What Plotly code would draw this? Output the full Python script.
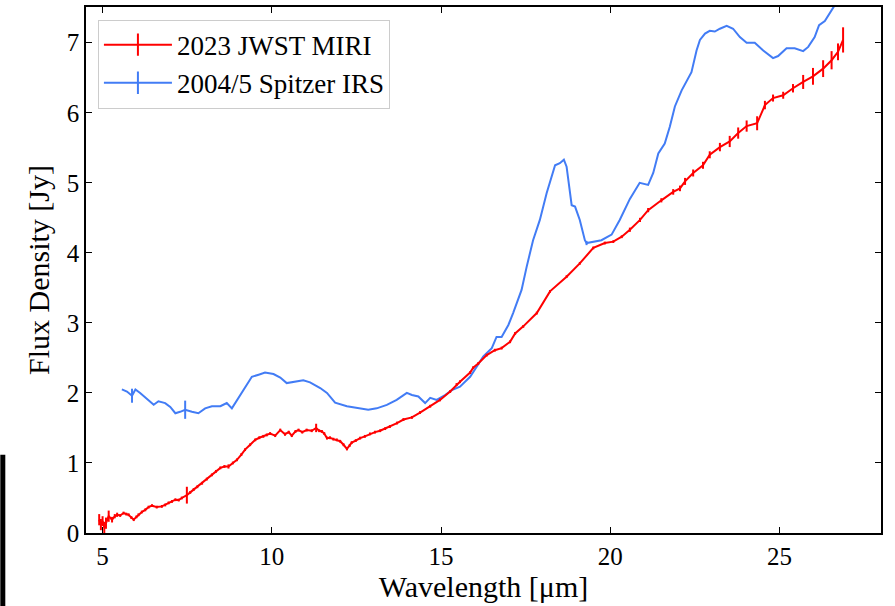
import plotly.graph_objects as go

# ---- data ----
miri_wl = [4.90, 4.95, 5.00, 5.05, 5.10, 5.18, 5.28, 5.36, 5.43, 5.52, 5.62, 5.70, 5.77, 5.85, 5.92,
           6.00, 6.06, 6.16, 6.26, 6.36, 6.46, 6.60, 6.75, 6.85, 6.95, 7.05, 7.15, 7.25, 7.34, 7.49,
           7.59, 7.69, 7.80, 7.94, 8.08, 8.23, 8.35, 8.48, 8.60, 8.72, 8.85, 8.97, 9.10, 9.21, 9.36,
           9.51, 9.63, 9.75, 9.85, 9.95, 10.10, 10.25, 10.39, 10.50, 10.59, 10.70, 10.79, 10.90, 11.03,
           11.18, 11.31, 11.40, 11.48, 11.55, 11.63, 11.72, 11.82, 11.92, 12.02, 12.12, 12.22, 12.30,
           12.36, 12.48, 12.61, 12.75, 12.90, 13.05, 13.20, 13.35, 13.49, 13.70, 13.89, 14.14, 14.38,
           14.68, 14.97, 15.27, 15.46, 15.56, 15.86, 15.95, 16.10, 16.35, 16.59, 16.79, 17.04, 17.19,
           17.43, 17.83, 18.22, 18.71, 19.10, 19.50, 19.84, 20.09, 20.34, 20.58, 20.88, 21.12, 21.51,
           21.86, 22.06, 22.21, 22.45, 22.74, 22.94, 23.24, 23.53, 23.78, 24.03, 24.34, 24.57, 24.81,
           25.11, 25.40, 25.70, 25.99, 26.29, 26.54, 26.73, 26.88]
miri_flux = [0.19, 0.12, 0.17, 0.08, 0.14, 0.24, 0.19, 0.24, 0.26, 0.25, 0.285, 0.27, 0.26, 0.22, 0.19,
             0.23, 0.26, 0.30, 0.33, 0.37, 0.39, 0.37, 0.38, 0.40, 0.43, 0.45, 0.475, 0.47, 0.50, 0.54,
             0.58, 0.62, 0.66, 0.71, 0.77, 0.83, 0.88, 0.93, 0.95, 0.95, 1.00, 1.045, 1.12, 1.19, 1.26,
             1.33, 1.36, 1.38, 1.40, 1.42, 1.39, 1.47, 1.41, 1.44, 1.39, 1.45, 1.47, 1.44, 1.47,
             1.46, 1.50, 1.46, 1.45, 1.42, 1.355, 1.36, 1.34, 1.33, 1.31, 1.26, 1.20, 1.25,
             1.29, 1.32, 1.355, 1.38, 1.415, 1.44, 1.46, 1.49, 1.52, 1.57, 1.62, 1.65, 1.72,
             1.81, 1.90, 2.02, 2.12, 2.16, 2.29, 2.36, 2.42, 2.54, 2.61, 2.64, 2.73, 2.85,
             2.95, 3.14, 3.45, 3.66, 3.85, 4.07, 4.14, 4.16, 4.23, 4.33, 4.47, 4.61, 4.75,
             4.87, 4.92, 5.02, 5.14, 5.25, 5.40, 5.51, 5.59, 5.71, 5.81, 5.85, 6.11, 6.21,
             6.25, 6.35, 6.44, 6.52, 6.63, 6.75, 6.87, 7.04]
miri_err = [0.08, 0.08, 0.07, 0.08, 0.08, 0.08, 0.04, 0.03, 0.03, 0.02, 0.02, 0.02, 0.02, 0.02, 0.02,
            0.02, 0.02, 0.02, 0.02, 0.02, 0.02, 0.02, 0.02, 0.02, 0.02, 0.02, 0.02, 0.02, 0.02, 0.12,
            0.02, 0.02, 0.02, 0.02, 0.02, 0.02, 0.02, 0.02, 0.02, 0.03, 0.02, 0.02, 0.02, 0.02, 0.02,
            0.02, 0.02, 0.02, 0.02, 0.02, 0.02, 0.02, 0.02, 0.02, 0.02, 0.02, 0.02, 0.02, 0.02,
            0.02, 0.06, 0.02, 0.02, 0.02, 0.02, 0.02, 0.02, 0.02, 0.02, 0.02, 0.02, 0.02,
            0.02, 0.02, 0.02, 0.02, 0.02, 0.02, 0.02, 0.02, 0.02, 0.02, 0.02, 0.02, 0.02,
            0.02, 0.02, 0.02, 0.02, 0.02, 0.02, 0.02, 0.02, 0.02, 0.02, 0.02, 0.02, 0.02,
            0.02, 0.02, 0.02, 0.02, 0.02, 0.02, 0.02, 0.02, 0.02, 0.03, 0.03, 0.03, 0.03,
            0.04, 0.04, 0.05, 0.05, 0.05, 0.05, 0.06, 0.08, 0.08, 0.08, 0.10, 0.06, 0.05,
            0.05, 0.06, 0.10, 0.12, 0.12, 0.13, 0.12, 0.18]

irs_wl = [5.57, 5.72, 5.87, 5.97, 6.11, 6.31, 6.51, 6.65, 6.85, 7.00, 7.15, 7.29, 7.44, 7.64, 7.83,
          8.03, 8.23, 8.48, 8.67, 8.82, 9.02, 9.21, 9.41, 9.61, 9.80, 10.05, 10.25, 10.44, 10.69,
          10.93, 11.13, 11.43, 11.63, 11.87, 12.22, 12.61, 12.85, 13.10, 13.40, 13.69, 13.99, 14.14,
          14.33, 14.53, 14.68, 14.87, 15.12, 15.32, 15.56, 15.86, 16.05, 16.25, 16.50, 16.64, 16.79,
          16.99, 17.13, 17.38, 17.53, 17.72, 17.92, 18.12, 18.37, 18.51, 18.63, 18.71, 18.86, 18.96,
          19.10, 19.25, 19.30, 19.50, 19.74, 20.04, 20.28, 20.58, 20.87, 21.12, 21.27, 21.42, 21.61,
          21.76, 21.91, 22.11, 22.40, 22.55, 22.65, 22.80, 22.94, 23.09, 23.24, 23.44, 23.63, 23.83,
          24.03, 24.27, 24.52, 24.81, 24.96, 25.21, 25.45, 25.70, 25.85, 26.04, 26.17, 26.34, 26.60,
          26.80]
irs_flux = [2.05, 2.02, 1.96, 2.05, 2.00, 1.91, 1.83, 1.88, 1.855, 1.80, 1.71, 1.73, 1.76, 1.73, 1.71,
            1.78, 1.81, 1.81, 1.855, 1.78, 1.93, 2.07, 2.23, 2.26, 2.29, 2.27, 2.22, 2.14, 2.16,
            2.18, 2.15, 2.07, 2.00, 1.86, 1.81, 1.78, 1.76, 1.78, 1.83, 1.90, 2.00, 1.97,
            1.95, 1.855, 1.93, 1.90, 1.97, 2.04, 2.09, 2.23, 2.38, 2.52, 2.64, 2.80, 2.80,
            2.97, 3.14, 3.47, 3.80, 4.18, 4.47, 4.85, 5.25, 5.28, 5.33, 5.23, 4.68, 4.66,
            4.47, 4.18, 4.14, 4.16, 4.18, 4.26, 4.47, 4.77, 5.00, 4.97, 5.14, 5.42, 5.56,
            5.80, 6.09, 6.32, 6.58, 6.89, 7.04, 7.13, 7.17, 7.16, 7.20, 7.24, 7.20, 7.08,
            7.00, 7.00, 6.89, 6.78, 6.81, 6.92, 6.92, 6.88, 6.94, 7.08, 7.25, 7.31, 7.51,
            7.75]
irs_err = [0, 0, 0.10, 0, 0, 0, 0, 0, 0, 0, 0, 0, 0.13, 0, 0,
           0, 0, 0, 0, 0, 0, 0, 0, 0, 0, 0, 0, 0, 0,
           0, 0, 0, 0, 0, 0, 0, 0, 0, 0, 0, 0, 0,
           0, 0, 0, 0, 0, 0, 0, 0, 0, 0, 0, 0, 0,
           0, 0, 0, 0, 0, 0, 0, 0, 0, 0, 0, 0, 0,
           0, 0, 0.03, 0, 0, 0, 0, 0, 0, 0, 0, 0, 0,
           0, 0, 0, 0, 0, 0, 0, 0, 0, 0, 0, 0, 0,
           0, 0, 0, 0, 0, 0, 0, 0, 0, 0, 0, 0, 0,
           0]

series_names = ["2023 JWST MIRI", "2004/5 Spitzer IRS"]
x_ticks = [5, 10, 15, 20, 25]
y_ticks = [0, 1, 2, 3, 4, 5, 6, 7]

RED = "#ff0000"
BLUE = "#427cf5"
FONT = "Liberation Serif"

fig = go.Figure()

fig.add_trace(go.Scatter(
    x=irs_wl, y=irs_flux, mode="lines", showlegend=False,
    line=dict(color=BLUE, width=2),
    error_y=dict(type="data", array=irs_err, visible=True, color=BLUE, thickness=2, width=0),
))
fig.add_trace(go.Scatter(
    x=miri_wl, y=miri_flux, mode="lines", showlegend=False,
    line=dict(color=RED, width=2),
    error_y=dict(type="data", array=miri_err, visible=True, color=RED, thickness=2, width=0),
))

# legend entries (line with vertical error tick)
for name, col in zip(series_names, [RED, BLUE]):
    fig.add_trace(go.Scatter(
        x=[None], y=[None], mode="lines+markers", name=name,
        line=dict(color=col, width=2),
        marker=dict(symbol="line-ns", size=16, color=col, line=dict(color=col, width=2)),
    ))

axis_common = dict(
    showline=True, linecolor="black", linewidth=1.5, mirror="allticks",
    ticks="inside", ticklen=6, tickwidth=1.2, tickcolor="black",
    showgrid=False, zeroline=False, automargin=False,
    tickfont=dict(family=FONT, size=25, color="black"),
    title_font=dict(family=FONT, size=30, color="black"),
)

fig.update_layout(
    width=895, height=606,
    margin=dict(l=86, r=14, t=7, b=73),
    paper_bgcolor="white", plot_bgcolor="white",
    font=dict(family=FONT, color="black"),
    xaxis=dict(range=[4.51, 28.0], tickvals=x_ticks, title=dict(text="Wavelength [μm]", standoff=3),
               **axis_common),
    yaxis=dict(range=[0, 7.51], tickvals=y_ticks, title=dict(text="Flux Density [Jy]", standoff=8),
               **axis_common),
    legend=dict(x=0.015, y=0.976, xanchor="left", yanchor="top",
                bgcolor="rgba(255,255,255,0.85)", bordercolor="#cccccc", borderwidth=1,
                itemwidth=68,
                font=dict(family=FONT, size=27, color="black"), tracegroupgap=0),
    shapes=[dict(type="rect", xref="paper", yref="paper", x0=-0.1078, x1=-0.1015,
                 y0=-0.14, y1=0.1487, fillcolor="black", line=dict(width=0), layer="above")],
)

fig.write_html("out.html", config={"displayModeBar": False},
               post_script="document.body.style.margin='0';document.body.style.overflow='hidden';")
